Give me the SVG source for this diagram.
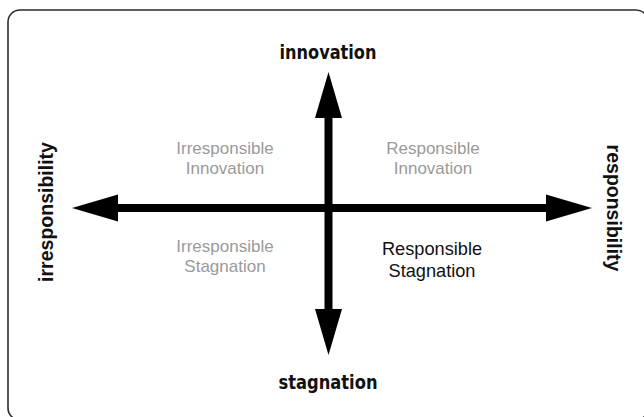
<svg xmlns="http://www.w3.org/2000/svg" width="644" height="417" viewBox="0 0 644 417">
  <defs>
    <marker id="head" markerUnits="userSpaceOnUse" viewBox="0 -14 47 28" markerWidth="47" markerHeight="28" refX="0" refY="0" orient="auto-start-reverse">
      <path d="M0,-13.5 L46,0 L0,13.5 Z" fill="#000"/>
    </marker>
    <style>
      .axis { stroke: #000; stroke-width: 8; fill: none; marker-start: url(#head); marker-end: url(#head); }
      .pole { font-family: "DejaVu Sans Condensed", "DejaVu Sans", sans-serif; font-weight: bold; font-size: 20px; fill: #111; text-anchor: middle; }
      .side { font-family: "Liberation Sans", Arial, sans-serif; font-weight: bold; font-size: 19.5px; fill: #111; text-anchor: middle; }
      .quad { font-family: "Liberation Sans", Arial, sans-serif; font-size: 17px; fill: #9a9a9a; text-anchor: middle; }
      .quad.on { fill: #111; font-size: 18.2px; }
    </style>
  </defs>

  <rect width="644" height="417" fill="#fff"/>
  <!-- frame -->
  <rect x="8" y="10" width="640" height="410" rx="12" ry="12" fill="none" stroke="#2a2a2a" stroke-width="1.6"/>

  <g id="connectors">
    <line class="axis" x1="118" y1="208" x2="546" y2="208"/>
    <line class="axis" x1="328.5" y1="118" x2="328.5" y2="309"/>
  </g>

  <g id="innovation"><text class="pole" x="328" y="59" textLength="97" lengthAdjust="spacingAndGlyphs">innovation</text></g>
  <g id="stagnation"><text class="pole" x="328" y="389" textLength="99" lengthAdjust="spacingAndGlyphs">stagnation</text></g>
  <g id="irresponsibility"><text class="side" transform="translate(53,212) rotate(-90)">irresponsibility</text></g>
  <g id="responsibility"><text class="side" transform="translate(607,208) rotate(90)">responsibility</text></g>

  <g id="irresponsible-innovation">
    <text class="quad" x="225" y="154">Irresponsible</text>
    <text class="quad" x="225" y="174">Innovation</text>
  </g>
  <g id="responsible-innovation">
    <text class="quad" x="433" y="154">Responsible</text>
    <text class="quad" x="433" y="174">Innovation</text>
  </g>
  <g id="irresponsible-stagnation">
    <text class="quad" x="225" y="252">Irresponsible</text>
    <text class="quad" x="225" y="272">Stagnation</text>
  </g>
  <g id="responsible-stagnation">
    <text class="quad on" x="432" y="255">Responsible</text>
    <text class="quad on" x="432" y="277">Stagnation</text>
  </g>
</svg>
